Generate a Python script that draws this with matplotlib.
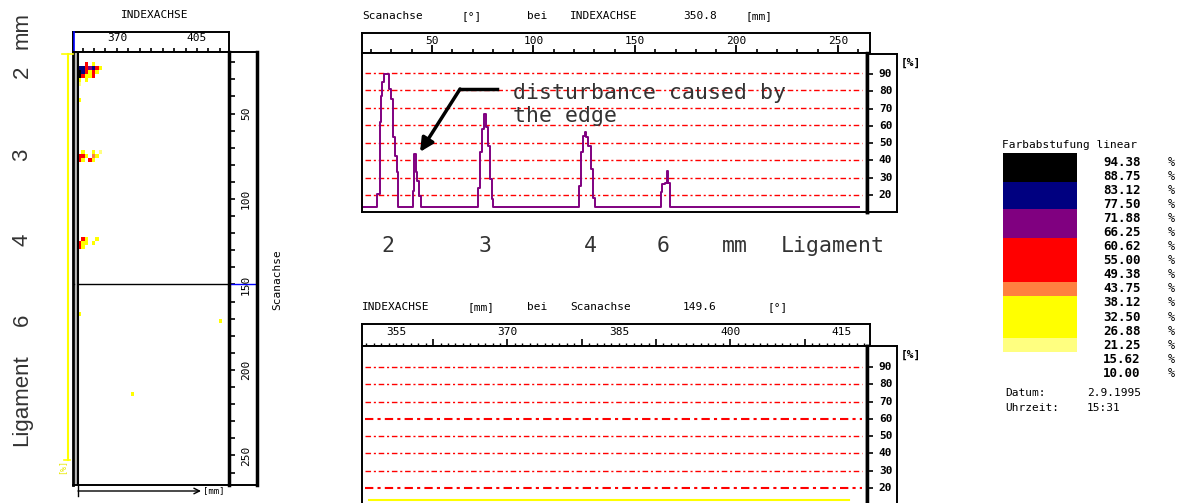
import matplotlib
matplotlib.use("Agg")
import matplotlib.pyplot as plt
from matplotlib.colors import ListedColormap, BoundaryNorm
from matplotlib.patches import Rectangle

W, H = 1188, 503

# A-scan along Scanachse at INDEXACHSE 350.8 mm
scan_pos = [15.5, 23.1, 24.3, 25.0, 25.5, 26.1, 28.7, 29.6, 30.8, 31.7, 32.7, 33.3,
            40.6, 41.3, 41.9, 42.7, 43.6, 44.5,
            72.6, 73.6, 74.7, 75.7, 76.4, 77.5, 78.7, 79.6, 80.1,
            122.3, 123.5, 124.6, 125.3, 126.1, 127.0, 128.2, 129.3, 130.2,
            162.6, 163.5, 164.8, 165.7, 166.2, 167.0, 260.4]
amplitude = [13, 20.5, 62, 77, 85, 89.5, 81, 75, 53, 42.5, 33, 13,
             22.5, 43.5, 33, 28, 19.6, 13,
             24, 44.5, 58, 66.5, 59, 48, 29, 17.7, 13,
             25, 44.5, 54, 56, 53, 48, 35, 18, 13,
             21.5, 26, 27, 34, 27, 13, 13]

# scan along INDEXACHSE at Scanachse 149.6 deg (no echo)
index_pos = [351.4, 416.3]
index_amp = [12.8, 12.8]

grid_levels = [20, 30, 40, 50, 60, 70, 80, 90]
cursor_index = 350.8
cursor_scan = 149.6

# C-scan cells: (index mm, scan deg, amplitude %)
heat_cells = [
    (356.0, 20.0, 58), (359.0, 20.0, 35),
    (353.0, 22.3, 82), (354.5, 22.3, 82), (356.0, 22.3, 58), (357.5, 22.3, 70),
    (359.0, 22.3, 82), (360.5, 22.3, 58), (362.0, 22.3, 35),
    (353.0, 24.6, 92), (354.5, 24.6, 82), (356.0, 24.6, 58), (357.5, 24.6, 35),
    (359.0, 24.6, 58), (360.5, 24.6, 35),
    (353.0, 26.9, 92), (354.5, 26.9, 58), (356.0, 26.9, 35), (357.5, 26.9, 35),
    (359.0, 26.9, 58),
    (353.0, 29.2, 35), (356.0, 29.2, 35), (353.0, 31.5, 24),
    (353.0, 41.0, 30),
    (354.5, 71.5, 35), (359.0, 71.5, 35), (362.0, 71.5, 24),
    (353.0, 73.8, 58), (354.5, 73.8, 58), (356.0, 73.8, 35), (359.0, 73.8, 46),
    (360.5, 73.8, 35),
    (353.0, 76.1, 58), (354.5, 76.1, 35), (357.5, 76.1, 58), (359.0, 76.1, 35),
    (354.5, 122.3, 58), (356.0, 122.3, 35), (360.5, 122.3, 35),
    (353.0, 124.6, 58), (354.5, 124.6, 35), (356.0, 124.6, 35), (359.0, 124.6, 35),
    (353.0, 126.9, 58), (354.5, 126.9, 35),
    (353.0, 166.0, 30), (376.0, 213.0, 30), (414.5, 170.0, 30),
]

level_colors = ['#ffff80', '#ffff00', '#ff8040', '#ff0000', '#800080', '#000080', '#000000']
level_bounds = [21.25, 26.88, 43.75, 49.38, 66.25, 77.5, 88.75, 100]
legend_labels = ['94.38', '88.75', '83.12', '77.50', '71.88', '66.25', '60.62', '55.00',
                 '49.38', '43.75', '38.12', '32.50', '26.88', '21.25', '15.62', '10.00']

UI = dict(family='DejaVu Sans Mono', fontsize=8, color='black')
BIG = dict(family='DejaVu Sans Mono', fontsize=15.5, color='#333333')

fig = plt.figure(figsize=(W / 100, H / 100), dpi=100)
bg = fig.add_axes([0, 0, 1, 1])
bg.set_xlim(0, W)
bg.set_ylim(H, 0)
bg.axis('off')
bg.set_zorder(10)
bg.patch.set_visible(False)


def box(x0, y0, x1, y1):
    a = fig.add_axes([x0 / W, 1 - y1 / H, (x1 - x0) / W, (y1 - y0) / H])
    a.set_xticks([])
    a.set_yticks([])
    for s in a.spines.values():
        s.set_linewidth(1.4)
    return a


def scale_strip(a, ylim, labels):
    a.set_ylim(*ylim)
    a.set_xlim(0, 1)
    a.set_yticks(labels)
    a.tick_params(axis='y', direction='in', length=4, width=1.2, labelleft=False)
    for v in labels:
        a.text(0.62, v, str(v), ha='center', va='center', fontweight='bold', **UI)
    a.spines['left'].set_linewidth(2.5)


# ---------- left panel (C-scan) ----------
cmap = ListedColormap(level_colors)
norm = BoundaryNorm(level_bounds, cmap.N)
idx_lim = (350.8, 419.0)
scan_lim = (267.3, 14.0)

lr = box(73, 32, 229, 52)
lr.set_xlim(*idx_lim)
lr.set_ylim(0, 1)
lr.set_xticks(range(355, 416, 5))
lr.set_xticks([355, 400], minor=True)
lr.tick_params(axis='x', which='major', direction='in', length=3, width=1.2, labelbottom=False)
lr.tick_params(axis='x', which='minor', direction='in', length=6, width=1.2, labelbottom=False)
for v in [370, 405]:
    lr.text(v, 0.68, str(v), ha='center', va='center', **UI)
lr.plot([cursor_index + 0.5] * 2, [0, 1], color='blue', lw=1.2, zorder=3, clip_on=False)

lb = box(73, 52, 229, 485)
lb.set_xlim(*idx_lim)
lb.set_ylim(*scan_lim)
for i, s, a in heat_cells:
    lb.add_patch(Rectangle((i, s), 1.5, 2.3, color=cmap(norm(a)), lw=0))
lb.axhline(cursor_scan, color='black', lw=1)
lb.spines['left'].set_linewidth(2)
lb.plot([0.02, 0.02], [0, 1], transform=lb.transAxes, color='#b0b0b0', lw=2)
lb.plot([0.034, 0.034], [0, 1], transform=lb.transAxes, color='black', lw=1.5)

ls = box(229, 52, 257, 485)
ls.set_ylim(*scan_lim)
ls.set_xlim(0, 1)
ls.set_yticks(range(20, 261, 10))
ls.set_yticks([100, 200], minor=True)
ls.tick_params(axis='y', which='major', direction='in', length=4, width=1.2, labelleft=False)
ls.tick_params(axis='y', which='minor', direction='in', length=10, width=1.2, labelleft=False)
for v in [50, 100, 150, 200, 250]:
    ls.text(0.6, v, str(v), ha='center', va='center', rotation=90, **UI)
ls.axhline(cursor_scan, color='blue', lw=1)
ls.spines['left'].set_linewidth(2.5)
ls.spines['right'].set_linewidth(2.5)

bg.text(155, 15, 'INDEXACHSE', ha='center', va='center', **UI)
bg.text(277, 280, 'Scanachse', ha='center', va='center', rotation=90, **UI)
bg.plot([68, 68], [54, 460], color='yellow', lw=1.5)
bg.plot([62, 73], [54, 54], color='yellow', lw=1.2)
bg.plot([64, 70], [460, 460], color='yellow', lw=1.2)
bg.text(62, 467, '[%]', ha='center', va='center', rotation=90, color='#e8e800',
        family='DejaVu Sans Mono', fontsize=6)
bg.annotate('', xy=(201, 491), xytext=(78, 491),
            arrowprops=dict(arrowstyle='->', color='black', lw=1, shrinkA=0, shrinkB=0))
bg.plot([78, 78], [486, 496], color='black', lw=1)
bg.text(203, 491, '[mm]', ha='left', va='center', family='DejaVu Sans Mono', fontsize=6.5)

for txt, y in [('mm', 30), ('2', 72), ('3', 155), ('4', 240), ('6', 320), ('Ligament', 400)]:
    bg.text(22, y, txt, ha='center', va='center', rotation=90,
            family='Liberation Sans', fontsize=16, color='#333333')

# ---------- top chart (A-scan along Scanachse) ----------
scan_lim_x = (15.5, 264.3)
amp_lim = (10.2, 101.5)

tr = box(362, 33, 870, 53)
tr.set_xlim(15.5, 265.8)
tr.set_ylim(0, 1)
tr.set_xticks(range(50, 251, 50))
tr.set_xticks(range(20, 261, 10), minor=True)
tr.tick_params(axis='x', which='major', direction='in', length=6, width=1.3, labelbottom=False)
tr.tick_params(axis='x', which='minor', direction='in', length=3, width=1.2, labelbottom=False)
for v in range(50, 251, 50):
    tr.text(v, 0.58, str(v), ha='center', va='center', **UI)

ta = box(362, 53, 867, 212)
ta.set_xlim(*scan_lim_x)
ta.set_ylim(*amp_lim)
for g in grid_levels:
    ta.axhline(g, xmin=0.006, xmax=0.99, color='red', lw=1, dashes=(4, 2, 1.5, 2))
ta.plot(scan_pos, amplitude, drawstyle='steps-post', color='#800080', lw=1.4)
ta.spines['right'].set_linewidth(2.5)

# annotation arrow
ta.plot([82.0, 63.8], [80.8, 80.8], color='black', lw=2.5, clip_on=False)
ta.annotate('', xy=(44.1, 44.7), xytext=(63.8, 80.8), annotation_clip=False,
            arrowprops=dict(arrowstyle='-|>', color='black', lw=2.5,
                            mutation_scale=20, shrinkA=0, shrinkB=0))
bg.text(513, 93, 'disturbance caused by', ha='left', va='center', **BIG)
bg.text(513, 116, 'the edge', ha='left', va='center', **BIG)

tsx = box(867, 54, 897, 212)
scale_strip(tsx, amp_lim, grid_levels)
bg.text(901, 63, '[%]', ha='left', va='center', fontweight='bold', **UI)

for txt, x in [('2', 388), ('3', 485), ('4', 590), ('6', 663), ('mm', 735), ('Ligament', 833)]:
    bg.text(x, 246, txt, ha='center', va='center', **BIG)

for txt, x in [('Scanachse', 362), ('[°]', 461), ('bei', 527), ('INDEXACHSE', 570),
               ('350.8', 683), ('[mm]', 745)]:
    bg.text(x, 16, txt, ha='left', va='center', **UI)

# ---------- bottom chart (along INDEXACHSE) ----------
bot_amp_lim = (11.3, 102.15)

br = box(362, 324, 870, 346)
br.set_xlim(350.42, 418.8)
br.set_ylim(0, 1)
br.set_xticks(range(360, 416, 10))
br.set_xticks(range(351, 419, 1), minor=True)
br.tick_params(axis='x', which='major', direction='in', length=5, width=1.2, labelbottom=False)
br.tick_params(axis='x', which='minor', direction='in', length=2, width=1, labelbottom=False)
for v in [355, 370, 385, 400, 415]:
    br.text(v, 0.62, str(v), ha='center', va='center', **UI)

ba = box(362, 346, 867, 503)
ba.set_xlim(350.42, 418.8)
ba.set_ylim(*bot_amp_lim)
ba.spines['bottom'].set_visible(False)
for g in grid_levels:
    ba.axhline(g, xmin=0.006, xmax=0.99, color='red',
               lw=1.5 if g in (20, 60) else 1, dashes=(4, 2, 1.5, 2))
ba.plot(index_pos, index_amp, color='yellow', lw=1.5)
ba.spines['right'].set_linewidth(2.5)

bsx = box(867, 346, 897, 503)
bsx.spines['bottom'].set_visible(False)
scale_strip(bsx, bot_amp_lim, grid_levels)
bg.text(901, 355, '[%]', ha='left', va='center', fontweight='bold', **UI)

for txt, x in [('INDEXACHSE', 362), ('[mm]', 467), ('bei', 527), ('Scanachse', 570),
               ('149.6', 683), ('[°]', 768)]:
    bg.text(x, 307, txt, ha='left', va='center', **UI)

# ---------- colour legend ----------
block_edges = [153, 182, 209, 238, 282, 296, 338, 352]
for k, c in enumerate(reversed(level_colors)):
    bg.add_patch(Rectangle((1003, block_edges[k]), 74, block_edges[k + 1] - block_edges[k],
                           color=c, lw=0))
bg.text(1002, 145, 'Farbabstufung linear', ha='left', va='center', **UI)
for k, lab in enumerate(legend_labels):
    y = 162 + k * 14.1
    bg.text(1103, y, lab, ha='left', va='center', family='DejaVu Sans Mono',
            fontsize=9, fontweight='bold')
    bg.text(1168, y, '%', ha='left', va='center', family='DejaVu Sans Mono', fontsize=8.5)
bg.text(1005, 393, 'Datum:', ha='left', va='center', **UI)
bg.text(1087, 393, '2.9.1995', ha='left', va='center', **UI)
bg.text(1005, 408, 'Uhrzeit:', ha='left', va='center', **UI)
bg.text(1087, 408, '15:31', ha='left', va='center', **UI)

fig.savefig('out.png', dpi=100)
